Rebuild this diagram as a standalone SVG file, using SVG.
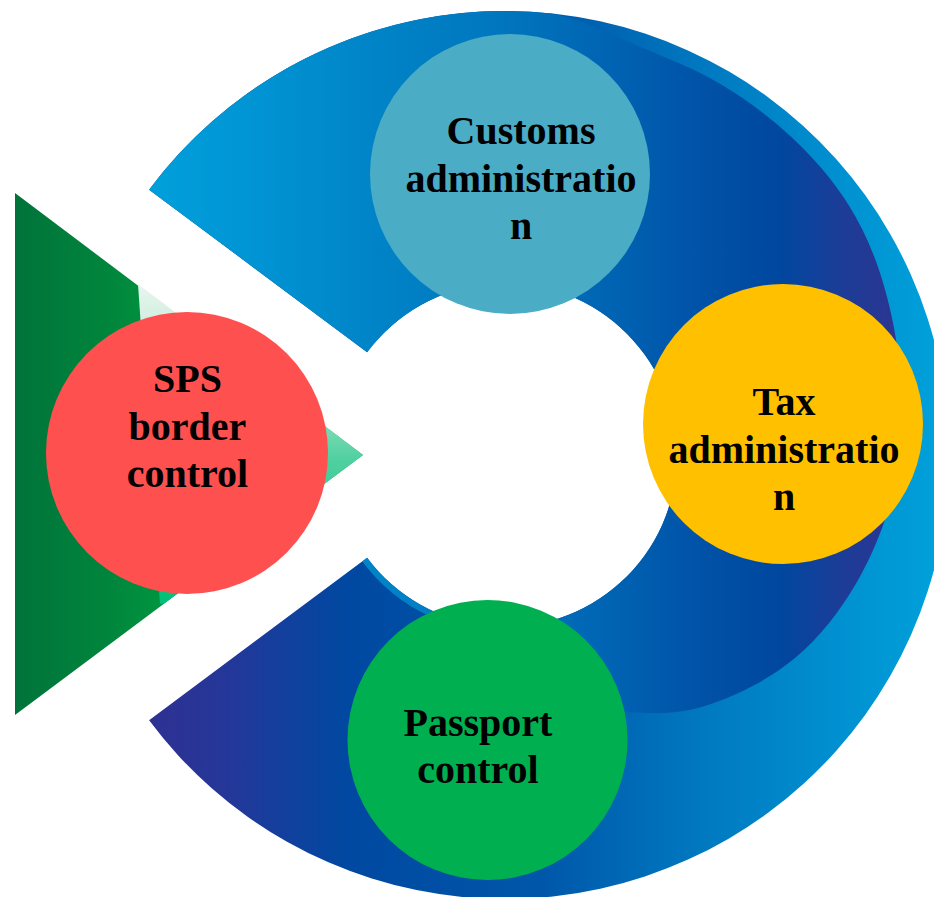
<svg xmlns="http://www.w3.org/2000/svg" width="934" height="897" viewBox="0 0 934 897">
  <defs>
    <linearGradient id="gOuter" gradientUnits="userSpaceOnUse" x1="149" y1="0" x2="934" y2="0">
      <stop offset="0" stop-color="#2e3192"/>
      <stop offset="0.1" stop-color="#243799"/>
      <stop offset="0.25" stop-color="#0048a1"/>
      <stop offset="0.5" stop-color="#0057aa"/>
      <stop offset="0.7" stop-color="#0078c0"/>
      <stop offset="0.87" stop-color="#008fd0"/>
      <stop offset="1" stop-color="#00a0da"/>
    </linearGradient>
    <linearGradient id="gInner" gradientUnits="userSpaceOnUse" x1="149" y1="0" x2="900" y2="0">
      <stop offset="0" stop-color="#00a0db"/>
      <stop offset="0.15" stop-color="#0093d3"/>
      <stop offset="0.3" stop-color="#0084c7"/>
      <stop offset="0.47" stop-color="#0076be"/>
      <stop offset="0.6" stop-color="#0065b4"/>
      <stop offset="0.73" stop-color="#0053a8"/>
      <stop offset="0.84" stop-color="#00479f"/>
      <stop offset="0.92" stop-color="#1b3d98"/>
      <stop offset="1" stop-color="#2c3591"/>
    </linearGradient>
    <linearGradient id="gTri" gradientUnits="userSpaceOnUse" x1="15" y1="0" x2="200" y2="0">
      <stop offset="0" stop-color="#00733a"/>
      <stop offset="0.5" stop-color="#00853c"/>
      <stop offset="1" stop-color="#00a042"/>
    </linearGradient>
    <linearGradient id="gShine" x1="0" y1="0" x2="0" y2="1">
      <stop offset="0" stop-color="#e8f5ee"/>
      <stop offset="0.35" stop-color="#a6e3c6"/>
      <stop offset="0.55" stop-color="#4fd0a0"/>
      <stop offset="1" stop-color="#00bf78"/>
    </linearGradient>
    <style>
      .lbl { font-family: "Liberation Serif", "Times New Roman", serif; font-weight: bold; font-size: 40px; fill: #000; text-anchor: middle; }
    </style>
  </defs>

  <g id="triangle">
    <polygon points="15,193 15,715 363,455" fill="url(#gTri)"/>
    <polygon points="138,284 363,455 165,603 160,604" fill="url(#gShine)"/>
  </g>

  <g id="ring">
    <path d="M149.1,189.7 A444,444 0 1 1 149.1,720.3 L367.1,557.8 A172,172 0 1 0 367.1,352.2 Z" fill="url(#gOuter)"/>
    <path d="M149.1,189.7 A444,444 0 0 1 551.4,13.4
             C581.3,18.8 609.9,34.3 637.9,46.0
             C665.9,57.7 693.9,68.3 719.5,83.5
             C745.1,98.7 769.8,116.7 791.4,137.0
             C813.0,157.3 833.3,180.3 848.8,205.2
             C864.3,230.1 875.4,256.2 884.1,286.2
             C892.8,316.2 899.3,351.4 900.9,385.2
             C902.5,419.0 900.9,456.0 893.5,489.0
             C886.1,522.0 872.8,554.7 856.4,582.9
             C840.0,611.1 818.9,638.0 795.0,658.1
             C771.2,678.2 738.8,694.1 713.3,703.2
             C687.8,712.3 666.0,713.9 642.1,712.8
             C618.2,711.7 605.1,712.6 569.7,696.5
             C534.3,680.4 457,629 429.8,616.3
             A178,178 0 0 1 362.3,561.4
             L367.1,557.8 A172,172 0 1 0 367.1,352.2 Z" fill="url(#gInner)"/>
  </g>

  <g id="connectors"/>

  <g id="node-sps">
    <circle cx="187" cy="453" r="141" fill="#ff5050"/>
    <text class="lbl" x="187.5" y="392">SPS</text>
    <text class="lbl" x="187.5" y="440">border</text>
    <text class="lbl" x="187.5" y="487">control</text>
  </g>

  <g id="node-customs">
    <circle cx="510" cy="174" r="140" fill="#4bacc6"/>
    <text class="lbl" x="521" y="144">Customs</text>
    <text class="lbl" x="521" y="192">administratio</text>
    <text class="lbl" x="521" y="239">n</text>
  </g>

  <g id="node-tax">
    <circle cx="783" cy="424" r="140" fill="#ffc000"/>
    <text class="lbl" x="784" y="415">Tax</text>
    <text class="lbl" x="784" y="463">administratio</text>
    <text class="lbl" x="784" y="510">n</text>
  </g>

  <g id="node-passport">
    <circle cx="487.5" cy="740" r="140" fill="#00b050"/>
    <text class="lbl" x="478" y="736">Passport</text>
    <text class="lbl" x="478" y="783">control</text>
  </g>
</svg>
